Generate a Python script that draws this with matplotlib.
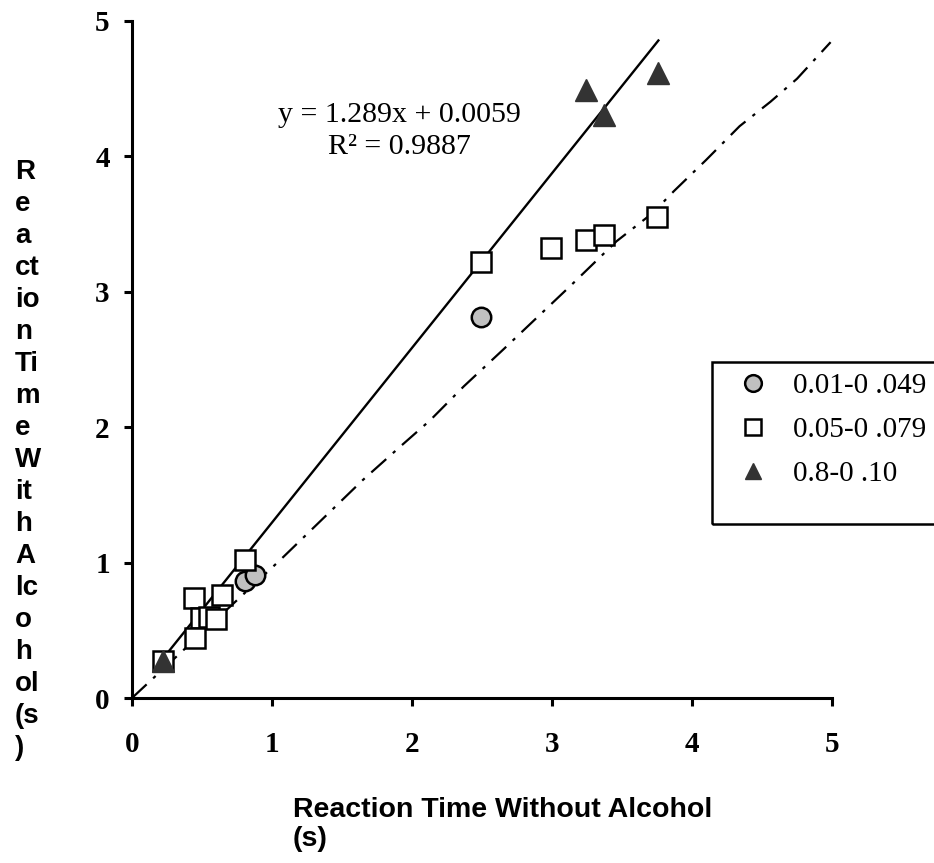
import numpy as np
import matplotlib
matplotlib.use('Agg')
import matplotlib.pyplot as plt
from matplotlib.patches import Rectangle

# Data
# BAC 0.01-0.049 (grey circles)
circ_x = [2.49, 0.81, 0.88]
circ_y = [2.81, 0.86, 0.91]
# BAC 0.05-0.079 (open squares)
sq_x = [0.81, 0.44, 0.64, 0.49, 0.55, 0.60, 0.45, 0.22, 2.49, 2.99, 3.24, 3.37, 3.75]
sq_y = [1.02, 0.74, 0.76, 0.59, 0.60, 0.58, 0.445, 0.27, 3.22, 3.32, 3.38, 3.42, 3.55]
# BAC 0.8-0.10 (dark triangles)
tri_x = [0.22, 3.24, 3.37, 3.76]
tri_y = [0.27, 4.49, 4.30, 4.61]

labels = ['0.01-0 .049', '0.05-0 .079', '0.8-0 .10']

# dash-dot reference line (traced)
dash_x = [0, 1.06, 1.39, 1.65, 1.91, 2.13, 2.37, 2.65, 3.13, 3.46, 3.72, 3.87, 4.10, 4.34, 4.56, 4.75, 4.99]
dash_y = [0, 1.02, 1.35, 1.61, 1.85, 2.05, 2.30, 2.57, 3.04, 3.37, 3.58, 3.74, 3.97, 4.22, 4.40, 4.57, 4.84]

# linear trendline
slope = 1.289
icpt = 0.0059
r2 = 0.9887

W, H = 934, 863
fig = plt.figure(figsize=(W/100, H/100), dpi=100)
ax = fig.add_axes([132/W, 1-698/H, 700/W, 677.5/H])

ax.plot(dash_x, dash_y, color='black', lw=1.6, linestyle=(0, (9, 4, 1.5, 4)), zorder=1)

all_x = circ_x + sq_x + tri_x
fx = np.array([min(all_x), max(all_x)])
ax.plot(fx, slope*fx + icpt, color='black', lw=1.7, zorder=2)

h1, = ax.plot(circ_x, circ_y, 'o', ms=14, mfc='#c0c0c0', mec='black', mew=1.8, ls='none', zorder=3, label=labels[0])
h2, = ax.plot(sq_x, sq_y, 's', ms=14, mfc='white', mec='black', mew=1.8, ls='none', zorder=3, label=labels[1])
h3, = ax.plot(tri_x, tri_y, '^', ms=16, mfc='#333333', mec='#333333', mew=1, ls='none', zorder=4, label=labels[2])

ax.text(1.91, 4.30, 'y = %.3fx + %.4f' % (slope, icpt), ha='center', va='center',
        family='Liberation Serif', fontsize=21.5)
ax.text(1.91, 4.07, 'R² = %.4f' % r2, ha='center', va='center',
        family='Liberation Serif', fontsize=21.5)

ax.set_xlim(0, 5)
ax.set_ylim(0, 5)
ax.set_xticks(range(6))
ax.set_yticks(range(6))
for s in ['top', 'right']:
    ax.spines[s].set_visible(False)
for s in ['left', 'bottom']:
    ax.spines[s].set_linewidth(2.2)
ax.tick_params(axis='both', direction='out', length=6, width=2.2)
ax.tick_params(axis='x', pad=18)
ax.tick_params(axis='y', pad=10)
for t in ax.get_xticklabels() + ax.get_yticklabels():
    t.set_family('Liberation Serif')
    t.set_fontweight('bold')
    t.set_fontsize(21)

# axis titles drawn as figure text to match the odd layout
ylab = ['R', 'e', 'a', 'ct', 'io', 'n', 'Ti', 'm', 'e', 'W', 'it', 'h', 'A', 'lc', 'o', 'h', 'ol', '(s', ')']
fig.text(15/W, 1-460/H, '\n'.join(ylab), ha='left', va='center', linespacing=1.30,
         family='Liberation Sans', fontweight='bold', fontsize=20)
fig.text(293/W, 1-810/H, 'Reaction Time Without Alcohol', ha='left', va='center',
         family='Liberation Sans', fontweight='bold', fontsize=20.5)
fig.text(293/W, 1-839/H, '(s)', ha='left', va='center',
         family='Liberation Sans', fontweight='bold', fontsize=20.5)

# legend box runs off the right edge
fig.patches.append(Rectangle((712/W, 1-524/H), 240/W, 162/H, transform=fig.transFigure,
                             fill=False, lw=1.8, edgecolor='black'))
leg = ax.legend(handles=[h1, h2, h3], loc='upper left', bbox_to_anchor=(738/W, 1-373/H),
                bbox_transform=fig.transFigure, frameon=False, borderpad=0, borderaxespad=0,
                handlelength=1.0, handletextpad=0.87, labelspacing=0.6,
                prop={'family': 'Liberation Serif', 'size': 21})
for lh in leg.legend_handles:
    lh.set_markersize(12)

fig.savefig('out.png', dpi=100)
